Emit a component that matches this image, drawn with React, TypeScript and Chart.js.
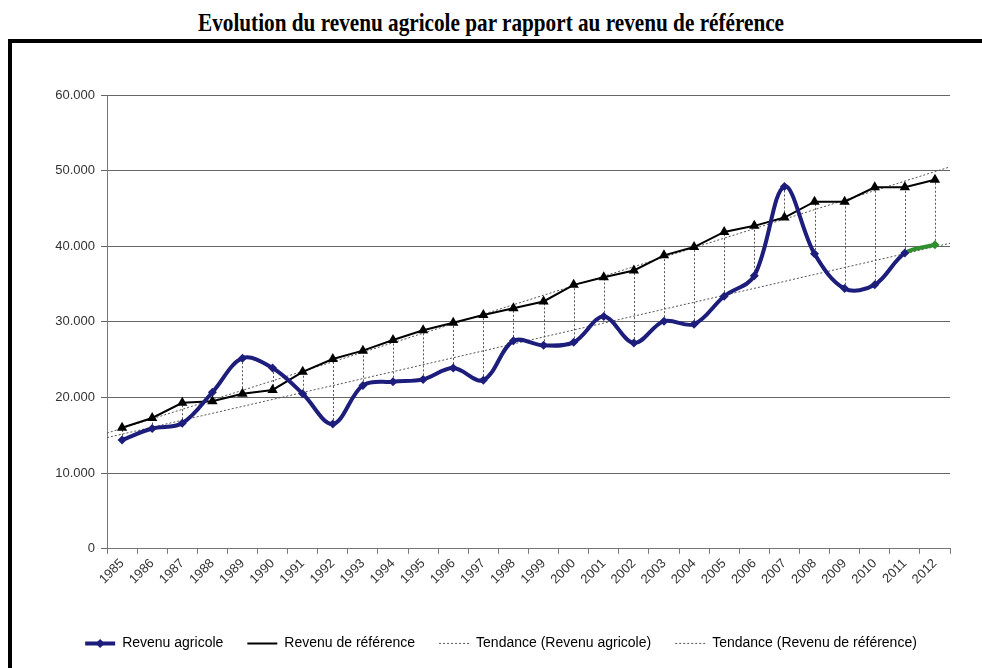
import React, { useEffect, useRef } from 'react';
import { Chart, registerables } from 'chart.js';

Chart.register(...registerables);

const titleText = 'Evolution du revenu agricole par rapport au revenu de référence';

const years = [
  '1985', '1986', '1987', '1988', '1989', '1990', '1991', '1992', '1993', '1994',
  '1995', '1996', '1997', '1998', '1999', '2000', '2001', '2002', '2003', '2004',
  '2005', '2006', '2007', '2008', '2009', '2010', '2011', '2012',
];

const revenuAgricole = [
  14400, 15900, 16600, 20700, 25200, 23900, 20500, 16500, 21600, 22100,
  22400, 23900, 22300, 27500, 26900, 27300, 30700, 27200, 30100, 29700,
  33400, 36100, 47900, 39000, 34400, 34900, 39100, 40200,
];

const revenuReference = [
  16000, 17300, 19300, 19500, 20500, 21000, 23400, 25100, 26200, 27600,
  28900, 29900, 30900, 31800, 32700, 34900, 35900, 36800, 38800, 39900,
  41900, 42700, 43800, 45900, 45900, 47800, 47800, 48800,
];

// trend lines at the two ends of the category axis
const trendIndex = [-0.5, 27.5];
const tendanceAgricole = [14700, 40400];
const tendanceReference = [15300, 50500];

const seriesNames = [
  'Revenu agricole',
  'Revenu de référence',
  'Tendance (Revenu agricole)',
  'Tendance (Revenu de référence)',
];

const NAVY = '#1d1d7c';
const GREEN = '#2f8f2f';
const FONT = '"Liberation Sans", Arial, sans-serif';

const highLowPlugin = {
  id: 'highLow',
  beforeDatasetsDraw(chart: any) {
    const a = chart.getDatasetMeta(0).data;
    const b = chart.getDatasetMeta(1).data;
    const ctx = chart.ctx;
    ctx.save();
    ctx.strokeStyle = '#555';
    ctx.lineWidth = 1;
    ctx.setLineDash([2, 2]);
    for (let i = 0; i < Math.min(a.length, b.length); i++) {
      ctx.beginPath();
      ctx.moveTo(Math.round(a[i].x) + 0.5, a[i].y);
      ctx.lineTo(Math.round(b[i].x) + 0.5, b[i].y);
      ctx.stroke();
    }
    ctx.restore();
  },
};

const legendDiamondPlugin = {
  id: 'legendDiamond',
  afterDraw(chart: any) {
    const lg = chart.legend;
    if (!lg || !lg.legendHitBoxes || !lg.legendHitBoxes[0]) return;
    const hb = lg.legendHitBoxes[0];
    const ctx = chart.ctx;
    const cx = hb.left + 15;
    const cy = hb.top + hb.height / 2;
    ctx.save();
    ctx.fillStyle = NAVY;
    ctx.beginPath();
    ctx.moveTo(cx, cy - 4.5);
    ctx.lineTo(cx + 4.5, cy);
    ctx.lineTo(cx, cy + 4.5);
    ctx.lineTo(cx - 4.5, cy);
    ctx.closePath();
    ctx.fill();
    ctx.restore();
  },
};

export default function App() {
  const canvasRef = useRef<HTMLCanvasElement | null>(null);
  const titleRef = useRef<HTMLSpanElement | null>(null);

  useEffect(() => {
    if (titleRef.current) {
      const w = titleRef.current.getBoundingClientRect().width;
      if (w > 0) titleRef.current.style.transform = `scaleX(${586 / w})`;
    }
    const canvas = canvasRef.current;
    if (!canvas) return;
    const chart = new Chart(canvas, {
      type: 'line',
      data: {
        labels: years,
        datasets: [
          {
            label: seriesNames[0],
            data: revenuAgricole,
            xAxisID: 'x',
            borderColor: NAVY,
            backgroundColor: NAVY,
            borderWidth: 4,
            tension: 0.35,
            pointStyle: 'rectRot',
            pointRadius: 4.5,
            pointBorderWidth: 0,
            pointBackgroundColor: revenuAgricole.map((_, i) => (i === revenuAgricole.length - 1 ? GREEN : NAVY)),
            pointBorderColor: revenuAgricole.map((_, i) => (i === revenuAgricole.length - 1 ? GREEN : NAVY)),
            segment: {
              borderColor: (c: any) => (c.p1DataIndex === revenuAgricole.length - 1 ? GREEN : NAVY),
            },
          },
          {
            label: seriesNames[1],
            data: revenuReference,
            xAxisID: 'x',
            borderColor: '#000',
            backgroundColor: '#000',
            borderWidth: 2,
            tension: 0,
            pointStyle: 'triangle',
            pointRadius: 6,
            pointBorderWidth: 0,
            pointBackgroundColor: '#000',
          },
          {
            label: seriesNames[2],
            data: trendIndex.map((x, i) => ({ x, y: tendanceAgricole[i] })),
            xAxisID: 'x2',
            borderColor: '#555',
            backgroundColor: '#555',
            borderWidth: 1,
            borderDash: [2, 2],
            pointRadius: 0,
            tension: 0,
          },
          {
            label: seriesNames[3],
            data: trendIndex.map((x, i) => ({ x, y: tendanceReference[i] })),
            xAxisID: 'x2',
            borderColor: '#555',
            backgroundColor: '#555',
            borderWidth: 1,
            borderDash: [2, 2],
            pointRadius: 0,
            tension: 0,
          },
        ],
      },
      options: {
        animation: false,
        responsive: false,
        maintainAspectRatio: false,
        layout: { padding: { left: 40, right: 32, top: 52, bottom: 7.6 } },
        plugins: {
          tooltip: { enabled: false },
          title: { display: false },
          legend: {
            position: 'bottom',
            align: 'center',
            labels: {
              usePointStyle: true,
              pointStyle: 'line',
              pointStyleWidth: 30,
              padding: 24,
              color: '#000',
              font: { family: FONT, size: 14 },
              generateLabels: (ch: any) =>
                ch.data.datasets.map((ds: any, i: number) => ({
                  text: ds.label,
                  fillStyle: ds.borderColor,
                  strokeStyle: ds.borderColor,
                  lineWidth: ds.borderWidth,
                  lineDash: ds.borderDash || [],
                  pointStyle: 'line',
                  hidden: false,
                  datasetIndex: i,
                  fontColor: '#000',
                })),
            },
          },
        },
        scales: {
          x: {
            type: 'category',
            offset: true,
            grid: {
              display: true,
              offset: true,
              drawOnChartArea: false,
              tickLength: 5,
              color: '#777',
            },
            border: { color: '#777' },
            ticks: {
              minRotation: 45,
              maxRotation: 45,
              autoSkip: false,
              color: '#333',
              padding: 2,
              font: { family: FONT, size: 13 },
            },
            afterFit: (s: any) => {
              s.height = 63.6;
            },
          },
          x2: {
            type: 'linear',
            display: false,
            min: -0.5,
            max: 27.5,
          },
          y: {
            min: 0,
            max: 60000,
            ticks: {
              stepSize: 10000,
              color: '#333',
              padding: 6,
              font: { family: FONT, size: 13 },
              callback: (v: any) => (v === 0 ? '0' : `${Math.round(v / 1000)}.000`),
            },
            grid: { color: '#666', tickLength: 6 },
            border: { color: '#777' },
            afterFit: (s: any) => {
              s.width = 55;
            },
          },
        },
      },
      plugins: [highLowPlugin, legendDiamondPlugin],
    });
    return () => chart.destroy();
  }, []);

  return (
    <div style={{ position: 'fixed', left: 0, top: 0, width: 982, height: 668, overflow: 'hidden', background: '#fff' }}>
      <div style={{ position: 'absolute', left: 0, top: 3, width: 982, height: 39, lineHeight: '39px', textAlign: 'center', whiteSpace: 'nowrap' }}>
        <span
          ref={titleRef}
          style={{ display: 'inline-block', fontFamily: '"Liberation Serif", "Times New Roman", serif', fontWeight: 'bold', fontSize: 26, transformOrigin: 'center center' }}
        >
          {titleText}
        </span>
      </div>
      <div style={{ position: 'absolute', left: 8, top: 39, width: 1000, height: 700, borderTop: '4px solid #000', borderLeft: '4px solid #000' }} />
      <canvas ref={canvasRef} width={970} height={625} style={{ position: 'absolute', left: 12, top: 43, width: 970, height: 625 }} />
    </div>
  );
}
